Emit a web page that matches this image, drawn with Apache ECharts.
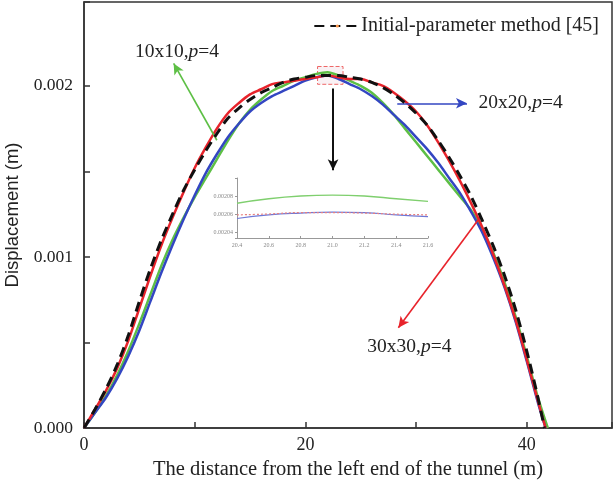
<!DOCTYPE html>
<html><head><meta charset="utf-8">
<script src="https://cdn.jsdelivr.net/npm/echarts@6/dist/echarts.min.js"></script>
<style>html,body{margin:0;padding:0;background:#fff}#c{width:613px;height:491px}</style>
</head><body><div id="c"></div>
<script>
// Main chart data
const xPos = [0,1,2,3,4,5,6,7,8,9,10,11,12,13,14,15,16,17,18,19,20,21,22,23,24,25,26,27,28,29,30,31,32,33,34,35,36,37,38,39,40,41];
const initialParam = [0,0.00011,0.00023,0.00037,0.00054,0.00074,0.00093,0.00110,0.00125,0.00139,0.00151,0.00162,0.00172,0.00181,0.00187,0.00192,0.00196,0.00199,0.00202,0.00204,0.00205,0.00206,0.00206,0.00206,0.00205,0.00204,0.00202,0.00199,0.00195,0.00190,0.00184,0.00177,0.00168,0.00158,0.00147,0.00135,0.00121,0.00106,0.00089,0.00069,0.00045,0.00018];
const initialEnd = [41.6, 0];
const mesh30 = [0,0.00011,0.00022,0.00035,0.00051,0.00070,0.00089,0.00107,0.00123,0.00138,0.00152,0.00164,0.00175,0.00184,0.00190,0.00195,0.00198,0.00201,0.00202,0.00203,0.00204,0.00205,0.00206,0.00205,0.00204,0.00204,0.00202,0.00200,0.00196,0.00191,0.00185,0.00177,0.00167,0.00156,0.00144,0.00131,0.00117,0.00101,0.00083,0.00063,0.00040,0.00016];
const mesh30End = [41.7, 0];
const mesh20 = [0,0.00009,0.00018,0.00029,0.00042,0.00057,0.00074,0.00091,0.00107,0.00122,0.00136,0.00149,0.00160,0.00170,0.00178,0.00185,0.00190,0.00194,0.00197,0.00200,0.00203,0.00205,0.00206,0.00204,0.00201,0.00198,0.00194,0.00189,0.00183,0.00177,0.00170,0.00163,0.00155,0.00146,0.00137,0.00126,0.00114,0.00099,0.00082,0.00062,0.00039,0.00015];
const mesh20End = [41.7, 0];
const mesh10 = [0,0.00009,0.00019,0.00031,0.00045,0.00061,0.00078,0.00095,0.00110,0.00123,0.00135,0.00146,0.00157,0.00168,0.00178,0.00186,0.00192,0.00197,0.00200,0.00203,0.00205,0.00207,0.00208,0.00206,0.00203,0.00200,0.00196,0.00190,0.00183,0.00175,0.00167,0.00159,0.00151,0.00143,0.00135,0.00127,0.00116,0.00102,0.00085,0.00065,0.00042,0.00018];
const mesh10End = [41.9, 0];
const xTicks = [0, 20, 40];
const yTicks = [0.000, 0.001, 0.002];

// Inset (zoom) data
const insetX = [20.4,20.6,20.8,21.0,21.2,21.4,21.6];
const insetMesh10 = [0.002072,0.002077,0.002080,0.002081,0.002080,0.002077,0.002074];
const insetMesh30 = [0.002059,0.002060,0.0020615,0.0020615,0.002061,0.0020598,0.002059];
const insetMesh20 = [0.002055,0.002059,0.002061,0.002062,0.0020615,0.002059,0.002057];

function pairs(xs, ys, end){ const d = xs.map((x,i)=>[x, ys[i]]); if(end) d.push(end); return d; }

const serif = 'Liberation Serif';
const RED='#e8232b', BLUE='#3346c2', GREEN='#5dbf45', BLACK='#111';
const LBL = 19.5;
const arrow = (c)=>({symbol:['none','arrow'], symbolSize:[8,11], silent:true, animation:false, label:{show:false}, lineStyle:{color:c,width:1.6,type:'solid'}});
const lbl = (txt)=>({show:true, position:'inside', fontFamily:serif, fontSize:LBL, color:'#222',
  formatter:txt, rich:{i:{fontStyle:'italic', fontFamily:serif, fontSize:LBL, color:'#222'}}});

const chart = echarts.init(document.getElementById('c'), null, {renderer:'canvas'});
chart.setOption({
  animation:false,
  backgroundColor:'#fff',
  legend:{
    data:[{name:'Initial-parameter method [45]'}],
    top:11, right:9, itemWidth:46, itemHeight:4, itemGap:0,
    textStyle:{fontFamily:serif, fontSize:20, color:'#222', padding:[0,0,0,-4]},
    selectedMode:false
  },
  grid:[
    {left:84, right:1, top:2, bottom:63, show:true, borderColor:'#333', borderWidth:1.5, backgroundColor:'transparent', outerBoundsMode:'none', containLabel:false},
    {left:237, top:178, width:191, height:60, show:false, outerBoundsMode:'none', containLabel:false}
  ],
  xAxis:[
    {type:'value', min:0, max:47.7, gridIndex:0, interval:10,
     axisLine:{lineStyle:{color:'#333', width:1.5}},
     axisTick:{inside:true, length:6, lineStyle:{color:'#333', width:1.5}},
     axisLabel:{fontFamily:serif, fontSize:18, color:'#222', margin:8,
       formatter:(v)=> xTicks.indexOf(Math.round(v*1000)/1000)>=0 ? String(v) : ''},
     splitLine:{show:false},
     name:'The distance from the left end of the tunnel (m)', nameLocation:'middle', nameGap:26,
     nameTextStyle:{fontFamily:serif, fontSize:20.5, color:'#222'}},
    {type:'value', min:20.4, max:21.6, interval:0.2, gridIndex:1,
     axisLine:{lineStyle:{color:'#999', width:1}},
     axisTick:{inside:true, length:2, lineStyle:{color:'#999'}},
     axisLabel:{fontFamily:serif, fontSize:6, color:'#888', margin:4, formatter:(v)=>v.toFixed(1)},
     splitLine:{show:false}}
  ],
  yAxis:[
    {type:'value', min:0, max:0.00249, interval:0.0005, gridIndex:0,
     axisLine:{lineStyle:{color:'#333', width:1.5}},
     axisTick:{inside:true, length:6, lineStyle:{color:'#333', width:1.5}},
     axisLabel:{fontFamily:serif, fontSize:17.5, color:'#222', margin:11,
       formatter:(v)=> yTicks.some(t=>Math.abs(t-v)<1e-9) ? v.toFixed(3) : ''},
     splitLine:{show:false},
     name:'Displacement (m)', nameLocation:'middle', nameGap:62,
     nameTextStyle:{fontFamily:'Liberation Sans', fontSize:18.5, color:'#222'}},
    {type:'value', min:0.0020333, max:0.0021, splitNumber:3, gridIndex:1,
     axisLine:{show:true, lineStyle:{color:'#999', width:1}},
     axisTick:{show:true, inside:false, length:2, lineStyle:{color:'#999'}},
     axisLabel:{fontFamily:serif, fontSize:6, color:'#888', margin:4,
       formatter:(v)=>{ const k=Math.round(v/0.00002); return Math.abs(k*0.00002-v)<1e-9 && v<0.00209 ? v.toFixed(5) : ''; }},
     splitLine:{show:false}}
  ],
  series:[
    {name:'10x10', type:'line', data:pairs(xPos, mesh10, mesh10End), smooth:0.3, symbol:'none',
     lineStyle:{color:GREEN, width:2.5}, z:3,
     markLine:Object.assign(arrow(GREEN), {data:[[{coord:[12.0,0.001682]},{coord:[8.1,0.002131]}]]}),
     markPoint:{symbol:'circle', symbolSize:0, silent:true, animation:false,
       label:lbl('10x10,{i|p}=4'), data:[{coord:[8.4,0.00220]}]}},
    {name:'20x20', type:'line', data:pairs(xPos, mesh20, mesh20End), smooth:0.3, symbol:'none',
     lineStyle:{color:BLUE, width:2.5}, z:3,
     markLine:Object.assign(arrow(BLUE), {data:[[{coord:[28.3,0.001898]},{coord:[34.6,0.001898]}]]}),
     markPoint:{symbol:'circle', symbolSize:0, silent:true, animation:false,
       label:lbl('20x20,{i|p}=4'), data:[{coord:[39.45,0.001898]}]}},
    {name:'30x30', type:'line', data:pairs(xPos, mesh30, mesh30End), smooth:0.3, symbol:'none',
     lineStyle:{color:RED, width:2.5}, z:4,
     markLine:Object.assign(arrow(RED), {data:[[{coord:[35.8,0.001233]},{coord:[28.4,0.000586]}]]}),
     markArea:{silent:true, animation:false, itemStyle:{color:'rgba(230,200,210,0.25)', borderColor:'#e66', borderWidth:1, borderType:'dashed'},
       data:[[{coord:[21.1,0.002113]},{coord:[23.4,0.002009]}]]},
     markPoint:{symbol:'circle', symbolSize:0, silent:true, animation:false,
       label:lbl('30x30,{i|p}=4'), data:[{coord:[29.4,0.000475]}]}},
    {name:'Initial-parameter method [45]', type:'line', data:pairs(xPos, initialParam, initialEnd), smooth:0.3, symbol:'none',
     lineStyle:{color:BLACK, width:3, type:[10,6]}, z:5,
     markLine:Object.assign(arrow('#111'), {lineStyle:{color:'#111',width:2,type:'solid'}, data:[[{coord:[22.5,0.001985]},{coord:[22.5,0.001507]}]]})},
    {name:'inset10', type:'line', xAxisIndex:1, yAxisIndex:1, data:pairs(insetX, insetMesh10), smooth:true, symbol:'none',
     lineStyle:{color:'#7fcf6e', width:1.4}},
    {name:'inset20', type:'line', xAxisIndex:1, yAxisIndex:1, data:pairs(insetX, insetMesh20), smooth:true, symbol:'none',
     lineStyle:{color:'#6f78d6', width:1.2}},
    {name:'inset30', type:'line', xAxisIndex:1, yAxisIndex:1, data:pairs(insetX, insetMesh30), smooth:true, symbol:'none',
     lineStyle:{color:'#e78080', width:1.2, type:[2,2]}}
  ]
});
</script></body></html>
